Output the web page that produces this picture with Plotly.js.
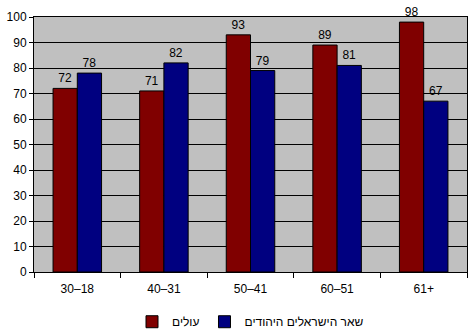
<!DOCTYPE html>
<html><head><meta charset="utf-8">
<script src="https://cdn.plot.ly/plotly-3.0.1.min.js"></script>
<style>html,body{margin:0;padding:0;background:#fff}</style>
</head><body>
<div id="chart" style="width:472px;height:335px"></div>
<script>
var categories = ["30–18", "40–31", "50–41", "60–51", "61+"];
var immigrants = [72, 71, 93, 89, 98];
var otherJews = [78, 82, 79, 81, 67];
var seriesNames = ["עולים", "שאר הישראלים היהודים"];
var yTicks = [0, 10, 20, 30, 40, 50, 60, 70, 80, 90, 100];

var font = {family: "Liberation Sans, Arial, sans-serif", size: 12, color: "#000"};
var traces = [
  {type: "bar", x: categories, y: immigrants, name: seriesNames[0],
   marker: {color: "#800000", line: {color: "#000", width: 1}},
   text: immigrants.map(String), textposition: "outside", textfont: font, cliponaxis: false},
  {type: "bar", x: categories, y: otherJews, name: seriesNames[1],
   marker: {color: "#000080", line: {color: "#000", width: 1}},
   text: otherJews.map(String), textposition: "outside", textfont: font, cliponaxis: false}
];
var layout = {
  width: 472, height: 335,
  margin: {l: 34, r: 5, t: 17, b: 63, autoexpand: false},
  paper_bgcolor: "#fff", plot_bgcolor: "#C0C0C0",
  font: font,
  barmode: "group", bargap: 0.44, bargroupgap: 0,
  showlegend: true,
  legend: {orientation: "h", x: 0.5, xanchor: "center", y: -0.195, yanchor: "middle",
           font: font, itemwidth: 30, tracegroupgap: 0},
  xaxis: {type: "category", showgrid: false, ticks: "outside", tickson: "boundaries",
          ticklen: 5, tickcolor: "#000", showline: true, linecolor: "#000", linewidth: 1,
          mirror: true, tickfont: font, ticklabelstandoff: 6, automargin: false, fixedrange: true},
  yaxis: {range: [0, 100], tickvals: yTicks, ticks: "outside", ticklen: 4, tickcolor: "#000",
          showgrid: true, gridcolor: "#000", gridwidth: 1, showline: true, linecolor: "#000",
          mirror: true, zeroline: false, tickfont: font, automargin: false, fixedrange: true}
};
Plotly.newPlot("chart", traces, layout, {displayModeBar: false, staticPlot: true});
</script>
</body></html>
